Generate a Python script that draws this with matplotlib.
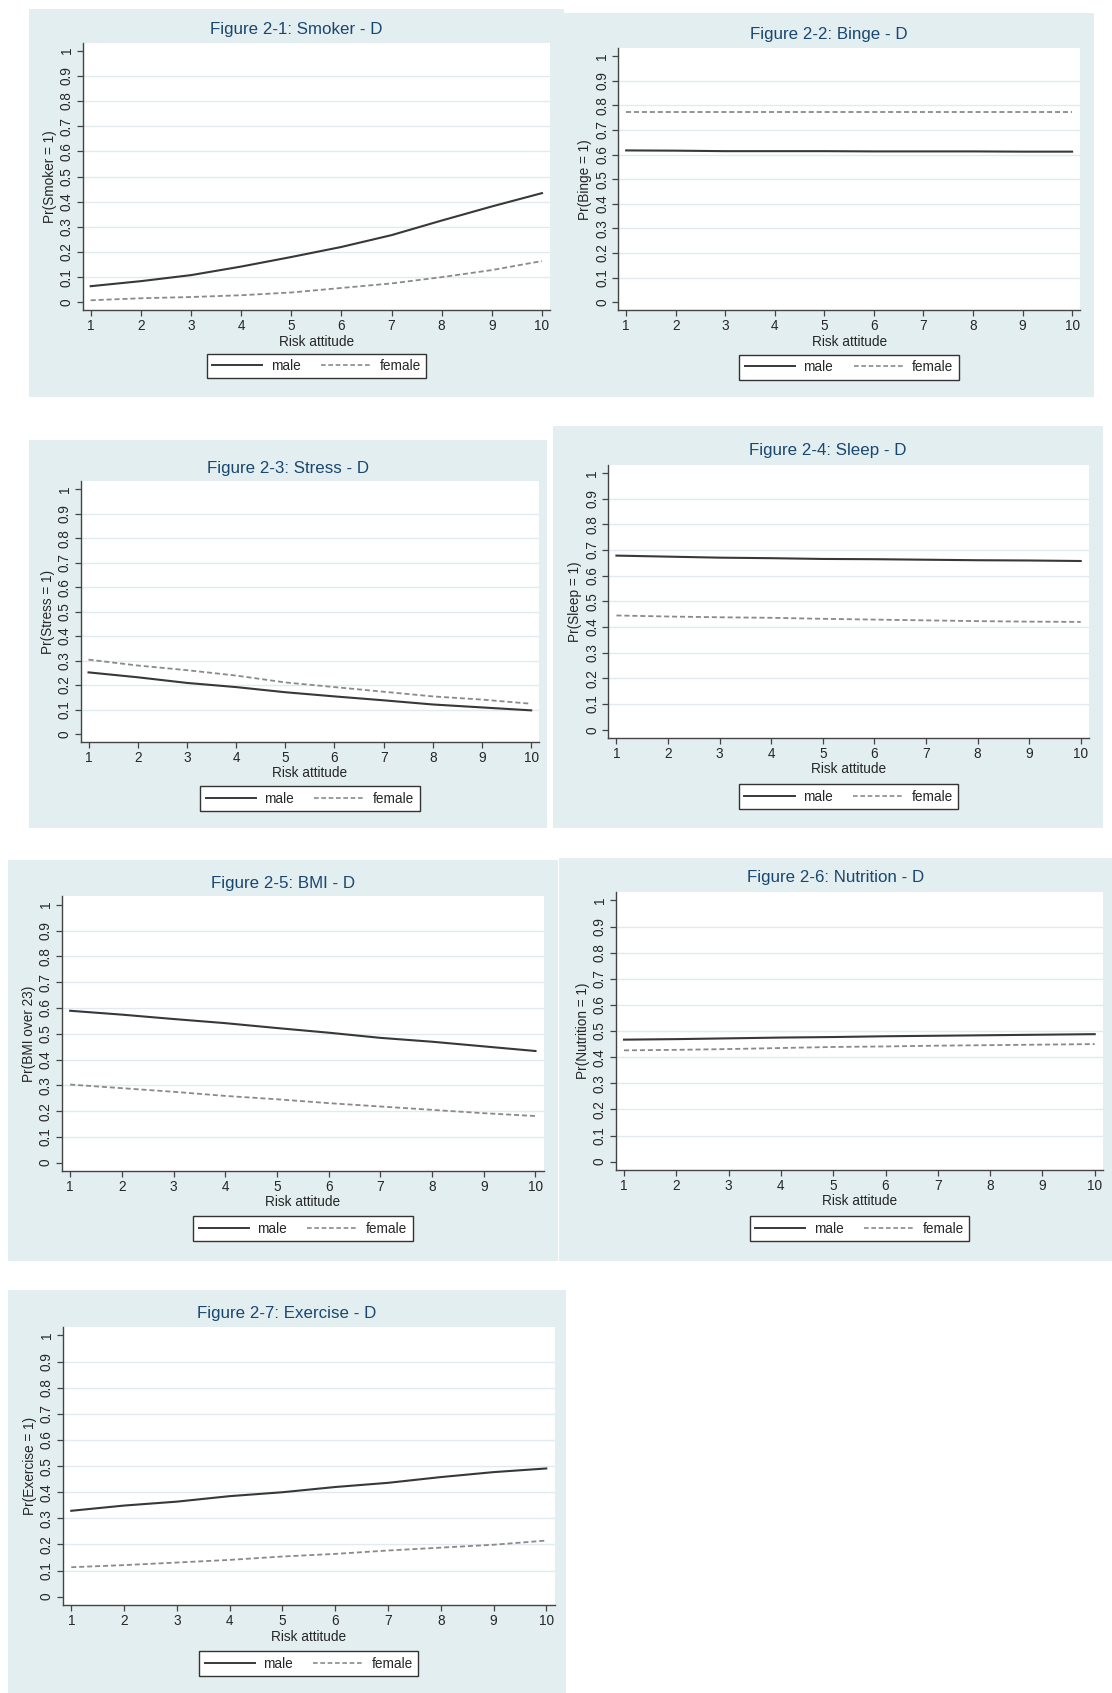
import numpy as np
import matplotlib.pyplot as plt
from matplotlib.patches import Rectangle
from matplotlib.lines import Line2D

plt.rcParams['font.family'] = ['Liberation Sans', 'DejaVu Sans']

# risk attitude scale
risk = [1, 2, 3, 4, 5, 6, 7, 8, 9, 10]

# predicted probabilities
smoker_male = [0.064, 0.084, 0.108, 0.142, 0.180, 0.220, 0.267, 0.325, 0.381, 0.434]
smoker_female = [0.008, 0.016, 0.021, 0.028, 0.039, 0.057, 0.075, 0.100, 0.128, 0.164]

binge_male = [0.617, 0.616, 0.614, 0.614, 0.614, 0.613, 0.613, 0.613, 0.612, 0.612]
binge_female = [0.772, 0.772, 0.772, 0.772, 0.772, 0.772, 0.772, 0.772, 0.772, 0.772]

stress_male = [0.252, 0.232, 0.209, 0.192, 0.171, 0.154, 0.138, 0.121, 0.109, 0.097]
stress_female = [0.304, 0.280, 0.261, 0.239, 0.211, 0.192, 0.173, 0.154, 0.141, 0.124]

sleep_male = [0.678, 0.674, 0.670, 0.668, 0.665, 0.664, 0.662, 0.660, 0.659, 0.657]
sleep_female = [0.445, 0.441, 0.438, 0.436, 0.432, 0.429, 0.426, 0.423, 0.421, 0.420]

bmi_male = [0.589, 0.574, 0.557, 0.541, 0.522, 0.504, 0.484, 0.469, 0.451, 0.433]
bmi_female = [0.303, 0.289, 0.275, 0.259, 0.246, 0.231, 0.218, 0.205, 0.192, 0.181]

nutrition_male = [0.467, 0.469, 0.472, 0.475, 0.477, 0.480, 0.482, 0.484, 0.486, 0.488]
nutrition_female = [0.426, 0.428, 0.431, 0.435, 0.439, 0.441, 0.444, 0.446, 0.448, 0.450]

exercise_male = [0.329, 0.349, 0.364, 0.385, 0.400, 0.420, 0.436, 0.458, 0.477, 0.491]
exercise_female = [0.113, 0.121, 0.131, 0.141, 0.154, 0.164, 0.177, 0.188, 0.199, 0.215]

titles = ["Figure 2-1: Smoker - D", "Figure 2-2: Binge - D", "Figure 2-3: Stress - D",
          "Figure 2-4: Sleep - D", "Figure 2-5: BMI - D", "Figure 2-6: Nutrition - D",
          "Figure 2-7: Exercise - D"]
ylabels = ["Pr(Smoker = 1)", "Pr(Binge = 1)", "Pr(Stress = 1)", "Pr(Sleep = 1)",
           "Pr(BMI over 23)", "Pr(Nutrition = 1)", "Pr(Exercise = 1)"]
males = [smoker_male, binge_male, stress_male, sleep_male, bmi_male, nutrition_male, exercise_male]
females = [smoker_female, binge_female, stress_female, sleep_female, bmi_female,
           nutrition_female, exercise_female]
yticks = [0, 0.1, 0.2, 0.3, 0.4, 0.5, 0.6, 0.7, 0.8, 0.9, 1]
ytick_labels = ["0", "0.1", "0.2", "0.3", "0.4", "0.5", "0.6", "0.7", "0.8", "0.9", "1"]

# layout, in pixels of a 1030 wide copy of the page:
# background box, x of ticks 1 and 10, y of ticks 0 and 1, title y, legend y
layout = [
    ((27, 8, 522, 368), 84, 502, 280, 47, 27, 339),
    ((522, 12, 1013, 368), 580, 993, 280, 52, 32, 340),
    ((27, 408, 507, 767), 82, 492, 680, 453, 434, 740),
    ((512, 395, 1022, 767), 571, 1001, 676, 438, 417, 738),
    ((7, 797, 517, 1168), 65, 496, 1077, 838, 818, 1138),
    ((518, 795, 1030, 1168), 578, 1014, 1076, 834, 813, 1138),
    ((7, 1195, 524, 1568), 66, 506, 1479, 1237, 1217, 1541),
]

W, H = 1112, 1693
S = W / 1030.0
BG = '#e2eef0'
NAVY = '#1a476f'
DARK = '#333333'
TXT = '#262626'
MALE_C = '#383838'
FEM_C = '#8a8a8a'
DASH = (0, (2.8, 1.6))
mx, my = 0.16, 0.032
fs = 9.8

fig = plt.figure(figsize=(W / 100, H / 100), dpi=100)
fig.patch.set_facecolor('white')

for i in range(7):
    (bx0, by0, bx1, by1), x1, x10, y0, y1, ty, ly = layout[i]
    fig.patches.append(Rectangle((bx0 * S / W, 1 - by1 * S / H), (bx1 - bx0) * S / W,
                                 (by1 - by0) * S / H, transform=fig.transFigure,
                                 facecolor=BG, edgecolor='none', zorder=-10))
    ux = (x10 - x1) / 9.0
    uy = (y0 - y1)
    left = x1 - mx * ux
    right = x10 + mx * ux
    top = y1 - my * uy
    bottom = y0 + my * uy
    ax = fig.add_axes([left * S / W, 1 - bottom * S / H, (right - left) * S / W,
                       (bottom - top) * S / H])
    ax.set_facecolor('white')
    ax.set_xlim(1 - mx, 10 + mx)
    ax.set_ylim(-my, 1 + my)

    for g in yticks[1:-1]:
        ax.axhline(g, color='#dfebee', lw=1.0, zorder=1)

    ax.plot(risk, males[i], color=MALE_C, lw=1.5, zorder=3)
    ax.plot(risk, females[i], color=FEM_C, lw=1.3, ls=DASH, zorder=3)

    for side in ['top', 'right']:
        ax.spines[side].set_visible(False)
    for side in ['left', 'bottom']:
        ax.spines[side].set_color('#444444')
        ax.spines[side].set_linewidth(1.0)

    ax.set_xticks(risk)
    ax.set_yticks(yticks)
    ax.set_yticklabels(ytick_labels, rotation=90, va='center')
    ax.tick_params(direction='out', length=4, width=0.9, color='#444444',
                   labelsize=fs, labelcolor=TXT, pad=2.5)
    ax.set_xlabel('Risk attitude', fontsize=fs, color=TXT, labelpad=1)
    ax.set_ylabel(ylabels[i], fontsize=fs, color=TXT, labelpad=2)

    cx = ((bx0 + bx1) / 2.0) * S / W
    fig.text(cx, 1 - ty * S / H, titles[i], ha='center', va='center',
             fontsize=12.2, color=NAVY)

    handles = [Line2D([], [], color=MALE_C, lw=1.4),
               Line2D([], [], color=FEM_C, lw=1.2, ls=DASH)]
    lcx = ((left + right) / 2.0) * S / W
    leg = fig.legend(handles, ['male', 'female'], ncol=2, loc='center',
                     bbox_to_anchor=(lcx, 1 - ly * S / H), bbox_transform=fig.transFigure,
                     fontsize=fs, frameon=True, fancybox=False, framealpha=1,
                     edgecolor=DARK, borderpad=0.4, handlelength=3.7,
                     handletextpad=0.6, columnspacing=1.5)
    leg.get_frame().set_linewidth(1.0)
    for t in leg.get_texts():
        t.set_color(TXT)

fig.savefig('out.png', dpi=100, facecolor='white')
